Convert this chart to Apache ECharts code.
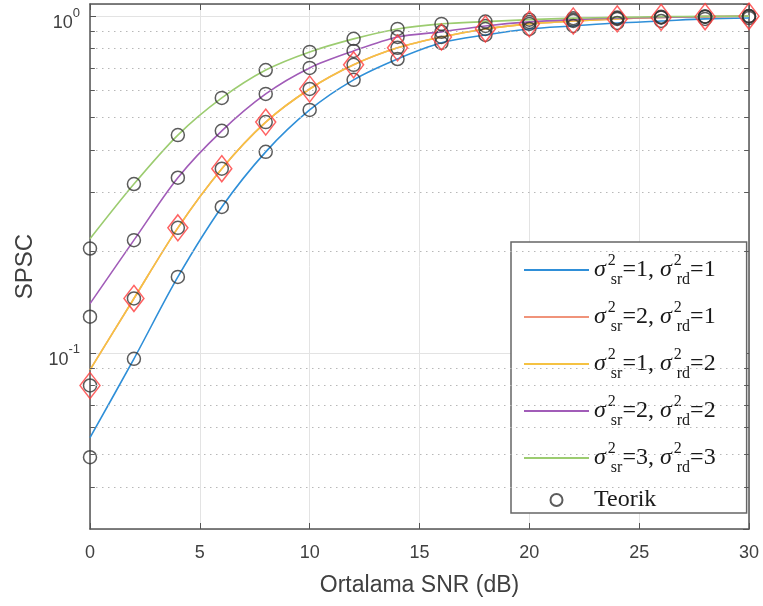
<!DOCTYPE html>
<html>
<head>
<meta charset="utf-8">
<script src="https://cdn.jsdelivr.net/npm/echarts@6/dist/echarts.min.js"></script>
<style>
  html, body { margin: 0; padding: 0; background: #fff; }
  #chart { width: 763px; height: 606px; }
</style>
</head>
<body>
<div id="chart"></div>
<script>
// SNR noktalari (dB)
var snr = [0, 2, 4, 6, 8, 10, 12, 14, 16, 18, 20, 22, 24, 26, 28, 30];

// varyans ciftleri (sigma_sr^2, sigma_rd^2)
var sigmaSr = [1, 2, 1, 2, 3];
var sigmaRd = [1, 1, 2, 2, 3];

// egriler (simulasyon cizgileri)
var line11 = [0.056, 0.096, 0.168, 0.271, 0.395, 0.526, 0.646, 0.745, 0.832, 0.878, 0.915, 0.934, 0.953, 0.966, 0.980, 0.986];
var line21 = [0.089, 0.145, 0.235, 0.352, 0.484, 0.607, 0.716, 0.804, 0.866, 0.915, 0.947, 0.966, 0.980, 0.990, 0.995, 0.998];
var line12 = [0.089, 0.145, 0.235, 0.352, 0.484, 0.607, 0.716, 0.804, 0.866, 0.915, 0.947, 0.966, 0.980, 0.990, 0.995, 0.998];
var line22 = [0.140, 0.216, 0.331, 0.456, 0.587, 0.701, 0.787, 0.866, 0.897, 0.934, 0.960, 0.975, 0.985, 0.990, 0.995, 0.998];
var line33 = [0.218, 0.317, 0.443, 0.571, 0.691, 0.782, 0.855, 0.915, 0.947, 0.962, 0.975, 0.985, 0.990, 0.995, 0.997, 0.999];

// teorik degerler (daireler)
var theo11 = [0.049, 0.096, 0.168, 0.271, 0.395, 0.526, 0.646, 0.745, 0.832, 0.878, 0.915, 0.934, 0.953, 0.966, 0.980, 0.986];
var theo12 = [0.080, 0.145, 0.235, 0.352, 0.484, 0.607, 0.716, 0.804, 0.866, 0.915, 0.947, 0.966, 0.980, 0.990, 0.995, 0.998];
var theo22 = [0.128, 0.216, 0.331, 0.456, 0.587, 0.701, 0.787, 0.866, 0.897, 0.934, 0.960, 0.975, 0.985, 0.990, 0.995, 0.998];
var theo33 = [0.204, 0.317, 0.443, 0.571, 0.691, 0.782, 0.855, 0.915, 0.947, 0.962, 0.975, 0.985, 0.990, 0.995, 0.997, 0.999];

// kirmizi elmaslar
var diamond21 = [0.080, 0.145, 0.235, 0.352, 0.484, 0.607, 0.716, 0.804, 0.866, 0.915, 0.947, 0.966, 0.980, 0.990, 0.995, 0.998];

// eksen ayarlari
var xTicks = [0, 5, 10, 15, 20, 25, 30];
var yMin = 0.03, yMax = 1.085;
var minorTicks = [0.04, 0.05, 0.06, 0.07, 0.08, 0.09, 0.2, 0.3, 0.4, 0.5, 0.6, 0.7, 0.8, 0.9];

var colors = ['#2f8fd8', '#f0937a', '#f5c242', '#a15cb8', '#9ccc70'];
var lines = [line11, line21, line12, line22, line33];
var names = sigmaSr.map(function (s, i) {
  return 'σsr²=' + s + ', σrd²=' + sigmaRd[i];
});

function pairs(vals) {
  return snr.map(function (x, i) { return [x, vals[i]]; });
}

var chart = echarts.init(document.getElementById('chart'));

var series = [];

// minor (noktali) izgara cizgileri ve kucuk tikler
var minorLines = [];
minorTicks.forEach(function (v) {
  minorLines.push({ yAxis: v });
});
var minorMarks = [];
minorTicks.forEach(function (v) {
  minorMarks.push([{ coord: [xTicks[0], v] }, { coord: [xTicks[0] + 0.22, v] }]);
  minorMarks.push([{ coord: [xTicks[xTicks.length - 1] - 0.22, v] }, { coord: [xTicks[xTicks.length - 1], v] }]);
});
series.push({
  name: 'grid',
  type: 'line',
  data: [],
  z: 1,
  silent: true,
  markLine: {
    silent: true,
    symbol: 'none',
    label: { show: false },
    lineStyle: { color: '#b8b8b8', type: [1.5, 4.5], width: 1 },
    data: minorLines,
    animation: false
  }
});
series.push({
  name: 'ticks',
  type: 'line',
  data: [],
  z: 6,
  silent: true,
  markLine: {
    silent: true,
    symbol: 'none',
    label: { show: false },
    lineStyle: { color: '#5a5a5a', type: 'solid', width: 1 },
    data: minorMarks,
    animation: false
  }
});

lines.forEach(function (vals, i) {
  series.push({
    name: names[i],
    type: 'line',
    data: pairs(vals),
    symbol: 'none',
    smooth: 0.3,
    z: 2 + (i === 1 ? 0 : 1),
    lineStyle: { color: colors[i], width: 1.6 },
    itemStyle: { color: colors[i] }
  });
});

var circles = [].concat(pairs(theo11), pairs(theo12), pairs(theo22), pairs(theo33));
series.push({
  name: 'Teorik',
  type: 'scatter',
  data: circles,
  symbol: 'circle',
  symbolSize: 13,
  z: 4,
  itemStyle: { color: 'rgba(0,0,0,0)', borderColor: '#333', borderWidth: 1.5 }
});

series.push({
  name: 'sim',
  type: 'scatter',
  data: pairs(diamond21),
  symbol: 'diamond',
  symbolSize: [20, 26],
  z: 5,
  itemStyle: { color: 'rgba(0,0,0,0)', borderColor: '#ff3b3b', borderWidth: 1.5 }
});

// lejant: cizgi simgesi + teorik daire
var legendData = names.map(function (n) {
  return { name: n, icon: 'path://M0,0 L65,0 L65,1.8 L0,1.8 Z' };
});
legendData.push({ name: 'Teorik' });

var axisCol = '#555';
var serif = 'Liberation Serif';

var option = {
  backgroundColor: '#fff',
  animation: false,
  grid: { left: 90, right: 14, top: 4, bottom: 77 },
  legend: {
    data: legendData,
    orient: 'vertical',
    left: 511,
    top: 242,
    selectedMode: false,
    backgroundColor: '#fff',
    borderColor: '#666',
    borderWidth: 1.5,
    padding: [11, 31, 1, 13],
    itemWidth: 65,
    itemHeight: 12,
    itemGap: 12,
    formatter: function (name) {
      var i = names.indexOf(name);
      if (i < 0) return '{n|' + name + '}';
      return '{g|σ}{p|2}{b|sr}{t|=' + sigmaSr[i] + ', }{g|σ}{p|2}{b|rd}{t|=' + sigmaRd[i] + '}';
    },
    textStyle: {
      rich: {
        g: { fontFamily: serif, fontStyle: 'italic', fontSize: 24, color: '#1a1a1a', lineHeight: 36, verticalAlign: 'middle' },
        p: { fontFamily: serif, fontSize: 16, color: '#1a1a1a', verticalAlign: 'top', width: 1, padding: [1, 0, 0, 2] },
        b: { fontFamily: serif, fontSize: 16, color: '#1a1a1a', verticalAlign: 'bottom', padding: [0, 0, 0, 2] },
        t: { fontFamily: serif, fontSize: 24, color: '#1a1a1a', lineHeight: 36, verticalAlign: 'middle' },
        n: { fontFamily: serif, fontSize: 24, color: '#1a1a1a', lineHeight: 30 }
      }
    }
  },
  xAxis: [{
    type: 'value',
    min: xTicks[0],
    max: xTicks[xTicks.length - 1],
    interval: 5,
    name: 'Ortalama SNR (dB)',
    nameLocation: 'middle',
    nameGap: 45,
    nameTextStyle: { fontFamily: 'Liberation Sans', fontSize: 23, color: '#404040' },
    axisLine: { onZero: false, lineStyle: { color: axisCol, width: 1.5 } },
    axisTick: { inside: true, length: 6, lineStyle: { color: axisCol } },
    axisLabel: { margin: 15, fontFamily: 'Liberation Sans', fontSize: 18, color: '#404040' },
    splitLine: { show: true, lineStyle: { color: '#e3e3e3', width: 1 } }
  }, {
    type: 'value',
    position: 'top',
    min: xTicks[0],
    max: xTicks[xTicks.length - 1],
    interval: 5,
    axisLine: { show: true, onZero: false, lineStyle: { color: axisCol, width: 1.5 } },
    axisTick: { show: true, inside: true, length: 6, lineStyle: { color: axisCol } },
    axisLabel: { show: false },
    splitLine: { show: false }
  }],
  yAxis: [{
    type: 'log',
    logBase: 10,
    min: yMin,
    max: yMax,
    name: 'SPSC',
    nameLocation: 'middle',
    nameGap: 52,
    nameTextStyle: { fontFamily: 'Liberation Sans', fontSize: 24, color: '#404040' },
    axisLine: { onZero: false, lineStyle: { color: axisCol, width: 1.5 } },
    axisTick: { inside: true, length: 6, lineStyle: { color: axisCol } },
    axisLabel: {
      margin: 10,
      padding: [7, 0, 0, 0],
      showMinLabel: false,
      showMaxLabel: false,
      formatter: function (v) {
        var e = Math.log10(v);
        if (Math.abs(e - Math.round(e)) > 1e-6) return '';
        return '{m|10}{s|' + Math.round(e) + '}';
      },
      rich: {
        m: { fontFamily: 'Liberation Sans', fontSize: 18, color: '#404040', lineHeight: 26, verticalAlign: 'bottom' },
        s: { fontFamily: 'Liberation Sans', fontSize: 13, color: '#404040', verticalAlign: 'top' }
      }
    },
    splitLine: { show: true, lineStyle: { color: '#e3e3e3', width: 1 } }
  }, {
    type: 'log',
    logBase: 10,
    position: 'right',
    min: yMin,
    max: yMax,
    axisLine: { show: true, onZero: false, lineStyle: { color: axisCol, width: 1.5 } },
    axisTick: { show: true, inside: true, length: 6, lineStyle: { color: axisCol } },
    axisLabel: { show: false },
    splitLine: { show: false }
  }],
  series: series
};

chart.setOption(option);
</script>
</body>
</html>
